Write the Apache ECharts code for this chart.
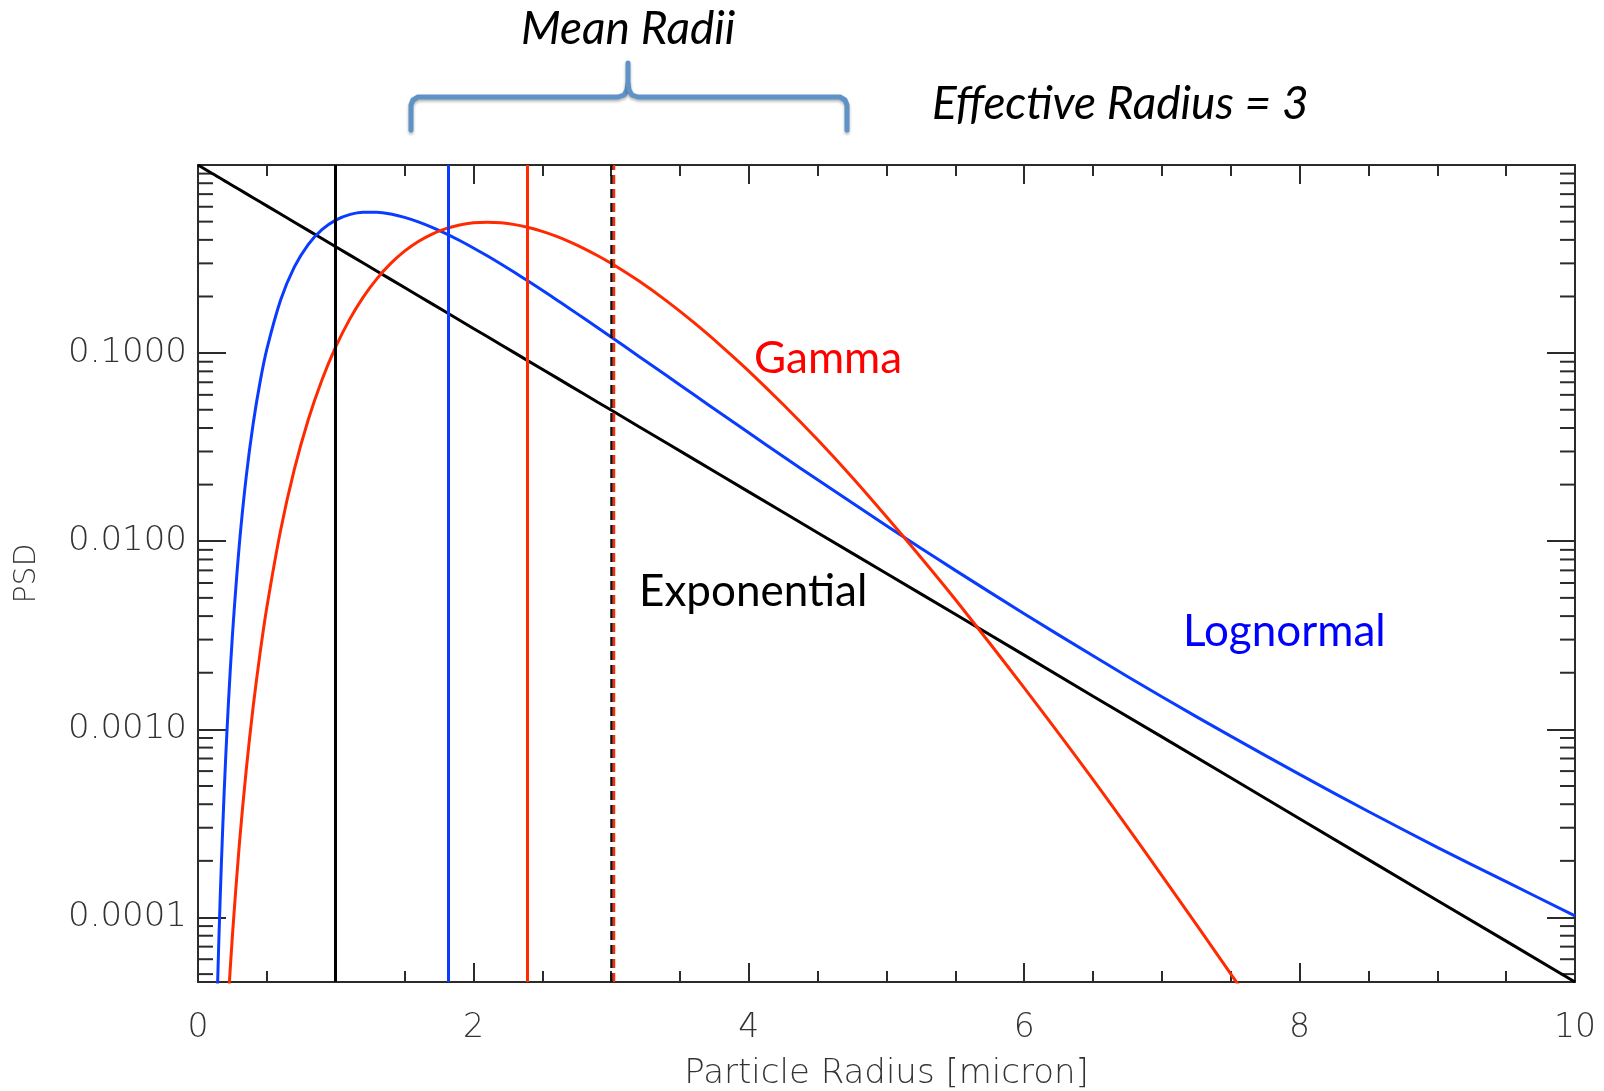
<!DOCTYPE html>
<html>
<head>
<meta charset="utf-8">
<title>PSD - Effective Radius = 3</title>
<script src="https://cdn.jsdelivr.net/npm/echarts@6/dist/echarts.min.js"></script>
<style>
  html, body { margin: 0; padding: 0; background: #fff; }
  #chart { width: 1604px; height: 1091px; }
</style>
</head>
<body>
<div id="chart"></div>
<script>
// particle radius [micron] and PSD values
const radius = [0, 0.1, 0.12, 0.14, 0.16, 0.18, 0.2, 0.22, 0.25, 0.3, 0.35, 0.4, 0.45, 0.5, 0.6, 0.7, 0.8, 0.9,
  1.0, 1.1, 1.2, 1.3, 1.4, 1.5, 1.6, 1.7, 1.8, 1.9, 2.0, 2.1, 2.2, 2.3, 2.4, 2.5, 2.6, 2.7, 2.8, 2.9, 3.0,
  3.2, 3.4, 3.6, 3.8, 4.0, 4.25, 4.5, 4.75, 5.0, 5.25, 5.5, 6.0, 6.5, 7.0, 7.5, 8.0, 8.5, 9.0, 9.5, 10]

const exponential = [1, 0.9048, 0.8869, 0.8694, 0.8521, 0.8353, 0.8187, 0.8025, 0.7788, 0.7408, 0.7047, 0.6703,
  0.6376, 0.6065, 0.5488, 0.4966, 0.4493, 0.4066, 0.3679, 0.3329, 0.3012, 0.2725, 0.2466, 0.2231, 0.2019,
  0.1827, 0.1653, 0.1496, 0.1353, 0.1225, 0.1108, 0.1003, 0.0907, 0.0821, 0.0743, 0.0672, 0.0608, 0.055,
  0.0498, 0.04076, 0.03337, 0.02732, 0.02237, 0.0183, 0.01426, 0.0111, 0.00865, 0.00674, 0.00525, 0.00409,
  0.00248, 0.0015, 0.000912, 0.000553, 0.000335, 0.000203, 0.000123, 0.0000749, 0.0000454]

const lognormal = [null, 1.6e-6, 9.5e-6, 3.85e-5, 1.2e-4, 3.06e-4, 6.79e-4, 1.34e-3, 3.16e-3, 9.56e-3, 0.022, 0.0419,
  0.0697, 0.1049, 0.1914, 0.2871, 0.3777, 0.4534, 0.5095, 0.5448, 0.5611, 0.5613, 0.5489, 0.527, 0.4987,
  0.4663, 0.4319, 0.3968, 0.3623, 0.329, 0.2975, 0.268, 0.2407, 0.2157, 0.1929, 0.1722, 0.1536, 0.1368,
  0.1218, 0.0963, 0.0762, 0.0602, 0.0476, 0.0377, 0.0282, 0.0212, 0.016, 0.0121, 0.00918, 0.007,
  0.00412, 0.00246, 0.00149, 0.00092, 0.000576, 0.000366, 0.000236, 0.000155, 0.000102]

const gamma = [null, 2.2e-7, 7.3e-7, 2.0e-6, 4.8e-6, 1.02e-5, 1.99e-5, 3.63e-5, 8.03e-5, 2.44e-4, 6.06e-4, 1.31e-3,
  2.52e-3, 4.46e-3, 0.01145, 0.02415, 0.04407, 0.072, 0.1079, 0.1507, 0.1985, 0.249, 0.2998, 0.3482, 0.3919,
  0.4293, 0.4589, 0.4801, 0.4926, 0.4967, 0.4929, 0.4821, 0.4653, 0.4437, 0.4184, 0.3904, 0.3608, 0.3305,
  0.3003, 0.2422, 0.1901, 0.1456, 0.1091, 0.0803, 0.0533, 0.0346, 0.0219, 0.0135, 0.0082, 0.0049,
  0.00166, 0.00054, 0.000167, 0.0000502, 0.0000146, 0.0000042, 0.0000012, 0.00000032, 0.00000009]

// mean radii of exponential, lognormal, gamma; effective radius
const meanRadii = [1.0, 1.82, 2.39]
const effRadius = 3

// axis ranges and log minor ticks
const xMin = 0, xMax = 10
const yMin = 4.54e-5, yMax = 1
const decades = [-5, -4, -3, -2, -1]
const mantissas = [2, 3, 4, 5, 6, 7, 8, 9]
const minorTicks = []
decades.forEach(d => mantissas.forEach(m => {
  const v = m * Math.pow(10, d)
  if (v > yMin && v < yMax) minorTicks.push(v)
}))

const RED = '#ff2a00'
const BLUE = '#0a3cff'
const AXIS = '#2b2b2b'
const TICKFONT = '"DejaVu Sans", sans-serif'
const TEXTFONT = 'Lato, "Open Sans", sans-serif'

const pairs = (vals) => radius.map((r, i) => [r, vals[i]])

const xAxisBase = {
  type: 'value', min: xMin, max: xMax, interval: 2,
  axisLine: { show: true, onZero: false, lineStyle: { color: AXIS, width: 2 } },
  axisTick: { show: true, inside: true, length: 19, lineStyle: { color: AXIS, width: 2 } },
  minorTick: { show: true, splitNumber: 4, length: 11, lineStyle: { color: AXIS, width: 2 } },
  splitLine: { show: false },
}

const yAxisBase = {
  type: 'log', logBase: 10, min: yMin, max: yMax,
  axisLine: { show: true, onZero: false, lineStyle: { color: AXIS, width: 2 } },
  axisTick: { show: true, inside: true, length: 28, lineStyle: { color: AXIS, width: 2 } },
  splitLine: { show: false },
}

const chart = echarts.init(document.getElementById('chart'))
chart.setOption({
  animation: false,
  backgroundColor: '#fff',
  grid: { left: 198, right: 29, top: 165, bottom: 109, containLabel: false, outerBoundsMode: 'none' },
  xAxis: [
    {
      ...xAxisBase, position: 'bottom',
      name: 'Particle Radius [micron]', nameLocation: 'middle', nameGap: 75,
      nameTextStyle: { fontFamily: TICKFONT, fontSize: 34, color: '#333', fontWeight: 200 },
      axisLabel: { show: true, margin: 30, fontFamily: TICKFONT, fontSize: 33, color: '#333', fontWeight: 200 },
    },
    { ...xAxisBase, position: 'top', axisLabel: { show: false } },
  ],
  yAxis: [
    {
      ...yAxisBase, position: 'left',
      name: 'PSD', nameLocation: 'middle', nameGap: 156, nameRotate: 90,
      nameTextStyle: { fontFamily: TICKFONT, fontSize: 30, color: '#333', fontWeight: 200 },
      axisLabel: {
        show: true, margin: 11, fontFamily: TICKFONT, fontSize: 34, color: '#333', fontWeight: 200,
        showMinLabel: false, showMaxLabel: false, padding: [8, 0, 0, 0],
        formatter: (v) => Number(v).toFixed(4),
      },
    },
    { ...yAxisBase, position: 'right', axisLabel: { show: false } },
  ],
  series: [
    {
      name: 'Exponential', type: 'line', data: pairs(exponential),
      showSymbol: false, symbol: 'none', clip: true,
      lineStyle: { color: '#000', width: 3 },
      markLine: {
        silent: true, symbol: ['none', 'none'], label: { show: false },
        lineStyle: { color: '#000', width: 3, type: 'solid' },
        data: [{ xAxis: meanRadii[0] }],
      },
    },
    {
      name: 'Lognormal', type: 'line', data: pairs(lognormal),
      showSymbol: false, symbol: 'none', smooth: 0.3, clip: true,
      lineStyle: { color: BLUE, width: 3 },
      markLine: {
        silent: true, symbol: ['none', 'none'], label: { show: false },
        lineStyle: { color: BLUE, width: 3, type: 'solid' },
        data: [{ xAxis: meanRadii[1] }],
      },
    },
    {
      name: 'Gamma', type: 'line', data: pairs(gamma),
      showSymbol: false, symbol: 'none', smooth: 0.3, clip: true,
      lineStyle: { color: RED, width: 3 },
      markLine: {
        silent: true, symbol: ['none', 'none'], label: { show: false },
        lineStyle: { color: RED, width: 3, type: 'solid' },
        data: [
          { xAxis: meanRadii[2] },
          {
            xAxis: effRadius,
            lineStyle: {
              color: '#111', width: 2.5, type: [9, 5],
              shadowColor: RED, shadowBlur: 0, shadowOffsetX: 2.5,
            },
          },
        ],
      },
    },
    {
      // IDL-style log minor ticks on left and right frame
      name: 'minorTicks', type: 'custom', silent: true,
      data: minorTicks.map(v => [xMin, v]),
      renderItem: (params, api) => {
        const y = api.coord([xMin, api.value(1)])[1]
        const cs = params.coordSys
        const st = { stroke: AXIS, lineWidth: 2 }
        return {
          type: 'group',
          children: [
            { type: 'line', shape: { x1: cs.x, y1: y, x2: cs.x + 15, y2: y }, style: st },
            { type: 'line', shape: { x1: cs.x + cs.width - 15, y1: y, x2: cs.x + cs.width, y2: y }, style: st },
          ],
        }
      },
    },
  ],
  graphic: [
    {
      type: 'text', left: 521, top: 6,
      style: { text: 'Mean Radii', font: `italic 46px ${TEXTFONT}`, fill: '#000' },
    },
    {
      type: 'text', left: 932, top: 81,
      style: { text: 'Effective Radius = 3', font: `italic 46px ${TEXTFONT}`, fill: '#000' },
    },
    {
      type: 'polyline', silent: true,
      shape: { points: [[411, 130], [411, 105], [413, 100], [418, 97], [618, 97], [624, 95], [627, 90], [628, 84], [628, 63]] },
      style: { stroke: '#5f93c8', lineWidth: 5, fill: null, lineJoin: 'round', lineCap: 'round',
        shadowBlur: 3, shadowColor: 'rgba(0,0,0,0.3)', shadowOffsetY: 2 },
    },
    {
      type: 'polyline', silent: true,
      shape: { points: [[847, 130], [847, 105], [845, 100], [840, 97], [638, 97], [632, 95], [629, 90], [628, 84]] },
      style: { stroke: '#5f93c8', lineWidth: 5, fill: null, lineJoin: 'round', lineCap: 'round',
        shadowBlur: 3, shadowColor: 'rgba(0,0,0,0.3)', shadowOffsetY: 2 },
    },
    {
      type: 'text', left: 754, top: 337,
      style: { text: 'Gamma', font: `44px ${TEXTFONT}`, fill: '#ff0000' },
    },
    {
      type: 'text', left: 639, top: 570,
      style: { text: 'Exponential', font: `44px ${TEXTFONT}`, fill: '#000' },
    },
    {
      type: 'text', left: 1183, top: 610,
      style: { text: 'Lognormal', font: `44px ${TEXTFONT}`, fill: '#0000ff' },
    },
  ],
})
</script>
</body>
</html>
